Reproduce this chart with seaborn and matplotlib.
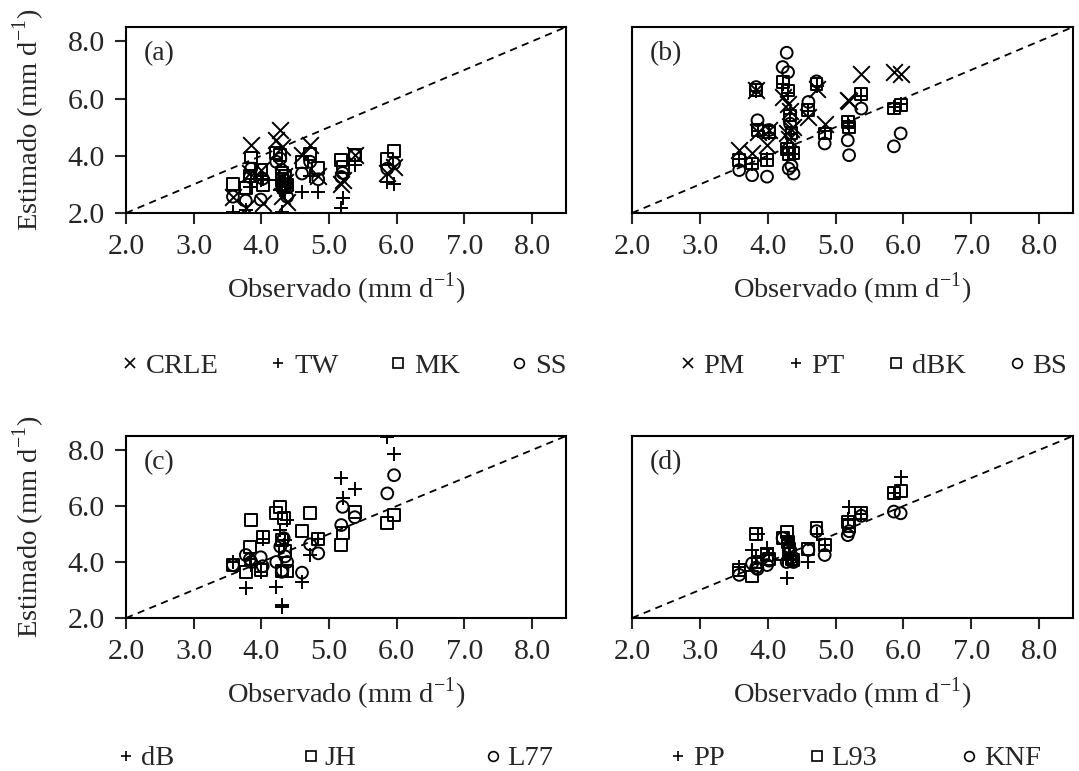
import numpy as np
import pandas as pd
import matplotlib
matplotlib.use('Agg')
import matplotlib.pyplot as plt
import seaborn as sns
from matplotlib.lines import Line2D

# observed ET (mm/d), shared by all panels
obs = [3.58, 3.77, 3.83, 3.85, 3.99, 4.02, 4.22, 4.28, 4.30, 4.31, 4.33,
       4.35, 4.38, 4.60, 4.72, 4.84, 5.18, 5.20, 5.38, 5.86, 5.96]

# (a)
CRLE = [2.57, 2.16, 3.40, 4.37, 3.50, 2.36, 4.54, 4.89, 4.31, 2.60, 3.30,
        3.10, 2.39, 4.02, 4.37, 3.30, 3.03, 3.15, 4.02, 3.40, 3.60]
TW = [2.05, 2.10, 2.90, 3.20, 3.15, 3.20, 3.15, 2.80, 2.05, 3.10, 3.20,
      2.70, 2.90, 2.74, 3.30, 2.74, 2.16, 2.51, 3.67, 3.09, 3.03]
MK = [3.01, 2.86, 3.30, 3.94, 3.50, 2.97, 4.10, 4.02, 3.20, 3.40, 2.90,
      3.30, 2.97, 3.79, 4.05, 3.56, 3.85, 3.60, 4.02, 3.90, 4.16]
SS = [2.57, 2.43, 3.26, 3.55, 2.47, 3.20, 3.79, 3.90, 3.50, 2.86, 3.20,
      3.00, 2.57, 3.38, 3.79, 3.18, 3.26, 3.40, 4.02, 3.55, 3.73]
# (b)
PM = [4.20, 4.08, 6.30, 4.83, 4.37, 4.90, 6.06, 4.78, 5.82, 4.60, 5.55,
      4.95, 5.00, 5.36, 6.35, 5.12, 5.94, 5.90, 6.87, 6.92, 6.87]
PT = [3.90, 3.70, 6.25, 4.85, 3.90, 4.80, 6.50, 4.30, 6.20, 4.10, 5.45,
      4.75, 4.05, 5.55, 6.45, 4.85, 5.15, 5.05, 6.10, 5.70, 5.80]
dBK = [3.85, 3.73, 6.30, 4.90, 3.85, 4.83, 6.57, 4.25, 6.28, 4.05, 5.41,
       4.80, 4.10, 5.59, 6.50, 4.78, 5.18, 5.00, 6.17, 5.65, 5.77]
BS = [3.50, 3.32, 6.40, 5.24, 3.27, 4.90, 7.10, 7.60, 6.92, 3.55, 5.12,
      3.65, 3.38, 5.88, 6.60, 4.43, 4.54, 4.02, 5.65, 4.33, 4.78]
# (c)
dB = [4.01, 3.06, 4.10, 3.90, 3.65, 4.82, 3.12, 5.14, 2.40, 2.45, 4.60,
      4.80, 5.50, 3.30, 4.25, 4.81, 6.99, 6.27, 6.60, 8.45, 7.86]
JH = [3.89, 3.65, 4.55, 5.50, 3.70, 4.90, 5.74, 5.95, 4.79, 3.67, 5.57,
      4.40, 3.67, 5.12, 5.74, 4.81, 4.60, 5.05, 5.80, 5.38, 5.68]
L77 = [3.89, 4.25, 4.10, 4.00, 4.17, 3.85, 4.00, 4.55, 3.65, 3.70, 4.85,
       4.20, 4.00, 3.62, 4.63, 4.31, 5.32, 5.97, 5.60, 6.45, 7.10]
# (d)
PP = [3.83, 4.43, 4.15, 5.00, 4.49, 4.25, 4.07, 3.42, 4.80, 4.60, 4.30,
      4.10, 4.07, 4.01, 5.00, 4.60, 5.55, 5.98, 5.70, 6.45, 7.05]
L93 = [3.71, 3.48, 5.00, 4.00, 4.25, 4.10, 4.85, 5.08, 4.70, 4.45, 4.30,
       4.10, 4.07, 4.45, 5.20, 4.60, 5.44, 5.30, 5.74, 6.45, 6.55]
KNF = [3.54, 3.95, 3.80, 3.75, 3.89, 4.05, 4.85, 4.00, 4.70, 4.55, 4.35,
       4.15, 4.00, 4.43, 5.10, 4.25, 4.96, 5.10, 5.65, 5.80, 5.74]

panels = {
    '(a)': [('CRLE', CRLE, 'x'), ('TW', TW, '+'), ('MK', MK, 's'), ('SS', SS, 'o')],
    '(b)': [('PM', PM, 'x'), ('PT', PT, '+'), ('dBK', dBK, 's'), ('BS', BS, 'o')],
    '(c)': [('dB', dB, '+'), ('JH', JH, 's'), ('L77', L77, 'o')],
    '(d)': [('PP', PP, '+'), ('L93', L93, 's'), ('KNF', KNF, 'o')],
}

sns.set_style('white')
plt.rcParams['font.family'] = ['Liberation Serif', 'DejaVu Serif']
plt.rcParams['mathtext.fontset'] = 'custom'
plt.rcParams['mathtext.rm'] = 'Liberation Serif'
plt.rcParams['axes.linewidth'] = 1.5

FS = 20.5
TS = 21.5
lim = (2.0, 8.5)
msize = {'x': 12, '+': 10, 's': 8.5, 'o': 8.5}   # marker span in points
lsize = {'x': 7, '+': 7, 's': 7, 'o': 7}

fig = plt.figure(figsize=(10.79, 7.71), dpi=100)
W, H = 1079, 771
boxes = {'(a)': (126, 27, 566, 213), '(b)': (632, 27, 1073, 213),
         '(c)': (126, 436, 566, 618), '(d)': (632, 436, 1073, 618)}
leg_pos = {'(a)': (0.497, -0.825, 1.85, 0.3), '(b)': (0.548, -0.825, 1.55, 0.3),
           '(c)': (0.478, -0.772, 4.55, 0.25), '(d)': (0.508, -0.772, 3.0, 0.25)}

for key, series in panels.items():
    x0, y0, x1, y1 = boxes[key]
    ax = fig.add_axes([x0 / W, 1 - y1 / H, (x1 - x0) / W, (y1 - y0) / H])
    ax.plot(lim, lim, ls=(0, (4, 3)), color='k', lw=1.3, zorder=1)
    handles = []
    for name, est, m in series:
        df = pd.DataFrame({'obs': obs, 'est': est})
        if m in ('x', '+'):
            sns.scatterplot(data=df, x='obs', y='est', marker=m, color='k',
                            s=msize[m] ** 2, linewidth=1.4, ax=ax, legend=False, zorder=3)
        else:
            sns.scatterplot(data=df, x='obs', y='est', marker=m, facecolor='none',
                            edgecolor='k', s=msize[m] ** 2, linewidth=1.4, ax=ax,
                            legend=False, zorder=3)
        handles.append(Line2D([], [], marker=m, ls='', color='k', mfc='none',
                              ms=lsize[m], mew=1.2, label=name))
    ax.set_xlim(lim)
    ax.set_ylim(lim)
    ax.set_xticks(np.arange(2, 9, 1.0))
    ax.set_xticklabels([f'{v:.1f}' for v in np.arange(2, 9, 1.0)])
    ax.set_xlabel('Observado (mm d$^{\\mathregular{-1}}$)', fontsize=FS, labelpad=8)
    ax.set_ylabel('')
    if key in ('(a)', '(c)'):
        ax.set_yticks(np.arange(2, 9, 2.0))
        ax.set_yticklabels([f'{v:.1f}' for v in np.arange(2, 9, 2.0)])
        ax.set_ylabel('Estimado (mm d$^{\\mathregular{-1}}$)', fontsize=FS, labelpad=15)
    else:
        ax.set_yticks([])
    ax.tick_params(axis='both', direction='out', length=8, width=1.5,
                   labelsize=TS, pad=7, left=True, bottom=True)
    for sp in ax.spines.values():
        sp.set_color('k')
        sp.set_linewidth(1.5)
    ax.text(0.04, 0.925, key, transform=ax.transAxes, fontsize=20, va='top', ha='left')
    cx, cy, cs, tp = leg_pos[key]
    ax.legend(handles=handles, loc='center', bbox_to_anchor=(cx, cy), ncol=len(handles),
              frameon=False, fontsize=FS, handlelength=0.5, handletextpad=tp,
              columnspacing=cs, borderaxespad=0)

fig.savefig('out.png', dpi=100)
